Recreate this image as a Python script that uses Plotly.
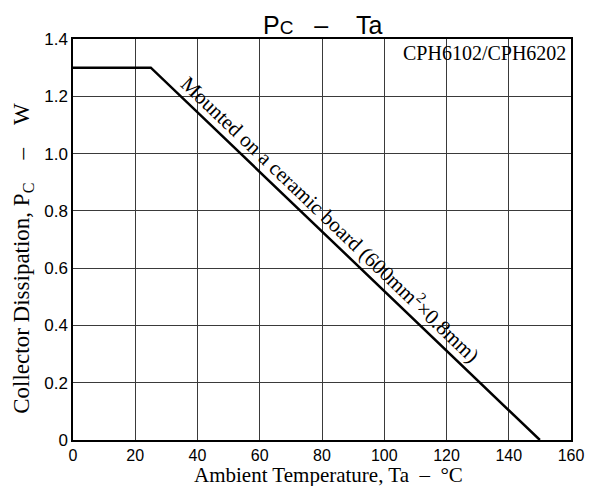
import plotly.graph_objects as go

# Derating curve data
temp_c = [0, 25, 150]
pc_w = [1.3, 1.3, 0.0]

x_ticks = [0, 20, 40, 60, 80, 100, 120, 140, 160]
x_tick_labels = ["0", "20", "40", "60", "80", "100", "120", "140", "160"]
y_ticks = [0, 0.2, 0.4, 0.6, 0.8, 1.0, 1.2, 1.4]
y_tick_labels = ["0", "0.2", "0.4", "0.6", "0.8", "1.0", "1.2", "1.4"]

SANS = "Liberation Sans, Arial, sans-serif"
SERIF = "Liberation Serif, Times New Roman, serif"
NB = "\u00a0"

fig = go.Figure()
fig.add_trace(go.Scatter(
    x=temp_c, y=pc_w, mode="lines",
    line=dict(color="black", width=2.5),
    showlegend=False, hoverinfo="skip",
))

# page has an 8px body margin, so the figure is 585x478
fig.update_layout(
    width=585, height=478,
    margin=dict(l=65, r=22, t=31, b=46),
    paper_bgcolor="white", plot_bgcolor="white",
    xaxis=dict(
        range=[0, 160], tickvals=x_ticks, ticktext=x_tick_labels,
        showgrid=True, gridcolor="#3a3a3a", gridwidth=1,
        showline=True, linecolor="black", linewidth=1.5, mirror=True,
        ticks="", zeroline=False, automargin=False,
        ticklabeloverflow="allow",
        tickfont=dict(family=SANS, size=16, color="black"),
    ),
    yaxis=dict(
        range=[0, 1.4], tickvals=y_ticks, ticktext=y_tick_labels,
        showgrid=True, gridcolor="#3a3a3a", gridwidth=1,
        showline=True, linecolor="black", linewidth=1.5, mirror=True,
        ticks="", zeroline=False, automargin=False,
        ticklabeloverflow="allow",
        tickfont=dict(family=SANS, size=17, color="black"),
    ),
    annotations=[
        # chart title
        dict(xref="paper", yref="paper", x=0.5, y=1, yanchor="bottom",
             yshift=-2, showarrow=False,
             text="P<span style='font-size:19px'>C</span>" + NB * 3 + "–" + NB * 4 + "Ta",
             font=dict(family=SANS, size=25, color="black")),
        # part numbers
        dict(xref="paper", yref="paper", x=1, y=1, xanchor="right",
             yanchor="top", xshift=-3, yshift=-1, showarrow=False,
             text="CPH6102/CPH6202",
             font=dict(family=SERIF, size=20, color="black")),
        # curve label
        dict(xref="x", yref="y", x=82.9, y=0.775, showarrow=False,
             textangle=43.7,
             text="Mounted on a ceramic board (600mm<sup>2</sup>×0.8mm)",
             font=dict(family=SERIF, size=21, color="black")),
        # x axis title
        dict(xref="paper", yref="paper", x=0.513, y=0, yanchor="bottom",
             yshift=-49, showarrow=False,
             text="Ambient Temperature, Ta" + NB * 2 + "–" + NB * 2 + "°C",
             font=dict(family=SERIF, size=21, color="black")),
        # y axis title
        dict(xref="paper", yref="paper", x=0, y=0.452, xanchor="center",
             yanchor="middle", xshift=-50, textangle=-90, showarrow=False,
             text="Collector Dissipation, P<sub>C</sub>" + NB * 4 + "–" + NB * 4 + "W",
             font=dict(family=SERIF, size=23, color="black")),
    ],
)

fig.write_html("out.html")
